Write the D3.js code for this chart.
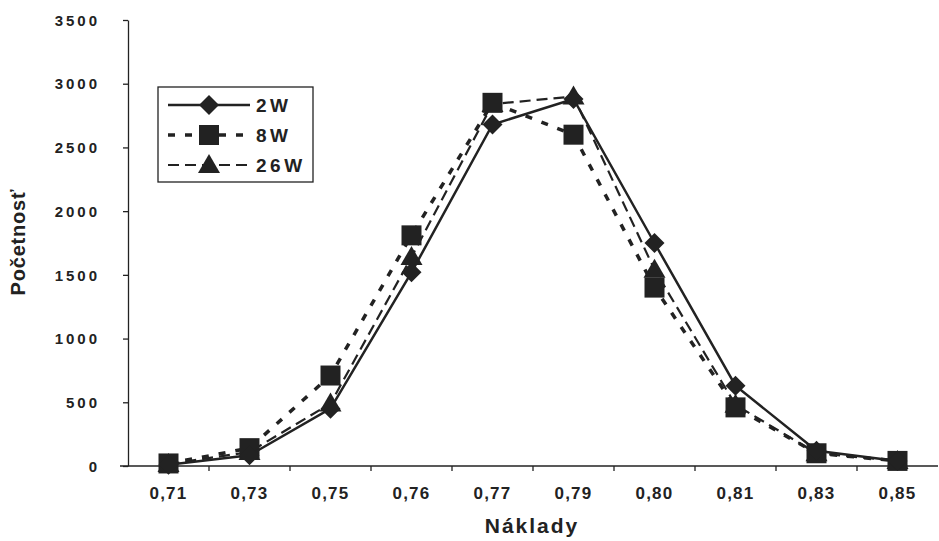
<!DOCTYPE html>
<html>
<head>
<meta charset="utf-8">
<script src="https://cdn.jsdelivr.net/npm/d3@7"></script>
<style>
  body { margin: 0; background: #fff; }
  text { font-family: "Liberation Sans", Arial, sans-serif; fill: #222; }
</style>
</head>
<body>
<div id="chart"></div>
<script>
const categories = ['0,71', '0,73', '0,75', '0,76', '0,77', '0,79', '0,80', '0,81', '0,83', '0,85'];
const values_2w = [10, 85, 450, 1520, 2680, 2880, 1750, 630, 120, 40];
const values_8w = [20, 140, 710, 1810, 2850, 2600, 1400, 460, 100, 40];
const values_26w = [15, 110, 490, 1640, 2840, 2900, 1540, 480, 100, 40];
const y_ticks = [0, 500, 1000, 1500, 2000, 2500, 3000, 3500];

const series = [
    { name: '2W', values: values_2w, dash: null, width: 2.5, marker: 'diamond' },
    { name: '8W', values: values_8w, dash: '7,10', width: 3.5, marker: 'square' },
    { name: '26W', values: values_26w, dash: '11,6', width: 2.2, marker: 'triangle' }
];

const chart_width = 939;
const chart_height = 541;
const ink = '#222';

const svg = d3.select('#chart')
    .append('svg')
    .attr('width', chart_width)
    .attr('height', chart_height);

// Scales
const x_scale = d3.scaleBand()
    .domain(categories)
    .range([128, 938]);

const y_scale = d3.scaleLinear()
    .domain([0, 3500])
    .range([466, 20]);

const cx = d => x_scale(d) + x_scale.bandwidth() / 2;

// Axes
const y_axis = svg.append('g')
    .attr('transform', 'translate(128,0)')
    .call(d3.axisLeft(y_scale)
        .tickValues(y_ticks)
        .tickFormat(d3.format('d'))
        .tickSize(5)
        .tickPadding(23)
        .tickSizeOuter(0));
y_axis.select('.domain').attr('stroke', ink).attr('stroke-width', 1.3);
y_axis.selectAll('.tick line').attr('stroke', ink).attr('stroke-width', 1.3);
y_axis.selectAll('.tick text')
    .attr('font-size', 15)
    .attr('font-weight', 'bold')
    .attr('letter-spacing', 3)
    .attr('dy', '0.35em')
    .attr('fill', ink);

const x_axis = svg.append('g')
    .attr('transform', 'translate(0,466)');
x_axis.append('line')
    .attr('x1', 120).attr('x2', 938)
    .attr('stroke', ink).attr('stroke-width', 1.3);
x_axis.selectAll('.xtick')
    .data(categories.slice(0, -1))
    .enter()
    .append('line')
    .attr('x1', d => x_scale(d) + x_scale.bandwidth())
    .attr('x2', d => x_scale(d) + x_scale.bandwidth())
    .attr('y1', 0).attr('y2', 5)
    .attr('stroke', ink).attr('stroke-width', 1.3);
x_axis.selectAll('.xlabel')
    .data(categories)
    .enter()
    .append('text')
    .attr('x', d => cx(d))
    .attr('y', 33)
    .attr('text-anchor', 'middle')
    .attr('font-size', 17)
    .attr('font-weight', 'bold')
    .attr('letter-spacing', 1.2)
    .text(d => d);

// Axis titles
svg.append('text')
    .attr('x', 532)
    .attr('y', 533)
    .attr('text-anchor', 'middle')
    .attr('font-size', 21)
    .attr('font-weight', 'bold')
    .attr('letter-spacing', 2)
    .text('Náklady');

svg.append('text')
    .attr('transform', 'translate(25,242) rotate(-90)')
    .attr('text-anchor', 'middle')
    .attr('font-size', 20)
    .attr('font-weight', 'bold')
    .attr('letter-spacing', 0.8)
    .text('Početnosť');

// Markers
function draw_marker(g, type, x, y) {
    if (type === 'diamond') {
        g.append('path')
            .attr('d', `M${x},${y - 10}L${x + 10},${y}L${x},${y + 10}L${x - 10},${y}Z`)
            .attr('fill', ink);
    } else if (type === 'square') {
        g.append('rect')
            .attr('x', x - 10).attr('y', y - 10)
            .attr('width', 20).attr('height', 20)
            .attr('fill', ink);
    } else {
        g.append('path')
            .attr('d', `M${x},${y - 11}L${x + 11},${y + 8}L${x - 11},${y + 8}Z`)
            .attr('fill', ink);
    }
}

const line = d3.line()
    .x((d, i) => cx(categories[i]))
    .y(d => y_scale(d));

// draw in reverse so 2W is on top
series.slice().reverse().forEach(s => {
    const g = svg.append('g');
    g.append('path')
        .datum(s.values)
        .attr('d', line)
        .attr('fill', 'none')
        .attr('stroke', ink)
        .attr('stroke-width', s.width)
        .attr('stroke-dasharray', s.dash);
    s.values.forEach((v, i) => draw_marker(g, s.marker, cx(categories[i]), y_scale(v)));
});

// Legend
const legend = svg.append('g');
legend.append('rect')
    .attr('x', 158).attr('y', 87)
    .attr('width', 155).attr('height', 95)
    .attr('fill', '#fff')
    .attr('stroke', ink)
    .attr('stroke-width', 1.3);

const legend_y = d3.scalePoint()
    .domain(series.map(s => s.name))
    .range([105, 165]);

series.forEach(s => {
    const y = legend_y(s.name);
    const g = legend.append('g');
    g.append('line')
        .attr('x1', 168).attr('x2', 250)
        .attr('y1', y).attr('y2', y)
        .attr('stroke', ink)
        .attr('stroke-width', s.width)
        .attr('stroke-dasharray', s.dash);
    draw_marker(g, s.marker, 209, y);
    g.append('text')
        .attr('x', 256)
        .attr('y', y)
        .attr('dy', '0.35em')
        .attr('font-size', 19)
        .attr('font-weight', 'bold')
        .attr('letter-spacing', 3.5)
        .text(s.name);
});
</script>
</body>
</html>
